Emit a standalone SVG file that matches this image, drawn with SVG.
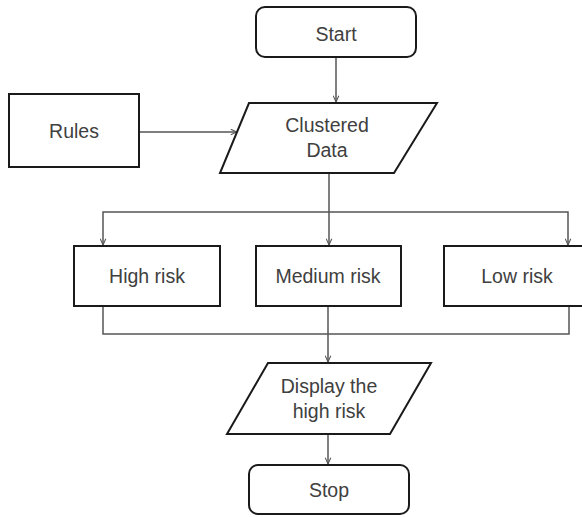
<svg xmlns="http://www.w3.org/2000/svg" width="582" height="517" viewBox="0 0 582 517">
<style>
.shape{fill:#fff;stroke:#1a1a1a;stroke-width:2}
.conn{fill:none;stroke:#555;stroke-width:1.5}
.lbl{font-family:"Liberation Sans",Arial,sans-serif;font-size:19.5px;fill:#404040;text-anchor:middle}
</style>
<defs>
<marker id="arr" viewBox="0 0 10 10" refX="10" refY="5" markerWidth="7" markerHeight="7" orient="auto" markerUnits="userSpaceOnUse">
<path d="M1,1 L10,5 L1,9" fill="none" stroke="#555" stroke-width="1.5"/>
</marker>
</defs>
<rect width="582" height="517" fill="#fff"/>
<g id="connectors">
<path class="conn" d="M336,57 V102" marker-end="url(#arr)"/>
<path class="conn" d="M139,132 H237" marker-end="url(#arr)"/>
<path class="conn" d="M329,173 V245" marker-end="url(#arr)"/>
<path class="conn" d="M329,212 H103 V245" marker-end="url(#arr)"/>
<path class="conn" d="M329,212 H568 V245" marker-end="url(#arr)"/>
<path class="conn" d="M103,306 V334 H569 V306"/>
<path class="conn" d="M328,306 V362" marker-end="url(#arr)"/>
<path class="conn" d="M328,434 V464" marker-end="url(#arr)"/>
</g>
<g id="start">
<rect class="shape" x="256" y="7" width="160" height="50" rx="9"/>
<text class="lbl" x="336" y="41">Start</text>
</g>
<g id="rules">
<rect class="shape" x="9" y="94" width="130" height="73"/>
<text class="lbl" x="74" y="138">Rules</text>
</g>
<g id="clustered">
<polygon class="shape" points="249,103 437,103 394,173 220,173"/>
<text class="lbl" x="327" y="132">Clustered</text>
<text class="lbl" x="327" y="157">Data</text>
</g>
<g id="high">
<rect class="shape" x="74" y="246" width="146" height="60"/>
<text class="lbl" x="147" y="283">High risk</text>
</g>
<g id="medium">
<rect class="shape" x="256" y="246" width="145" height="60"/>
<text class="lbl" x="328" y="283">Medium risk</text>
</g>
<g id="low">
<rect class="shape" x="444" y="246" width="140" height="60"/>
<text class="lbl" x="517" y="283">Low risk</text>
</g>
<g id="display">
<polygon class="shape" points="268,363 431,363 390,434 227,434"/>
<text class="lbl" x="329" y="393">Display the</text>
<text class="lbl" x="329" y="418">high risk</text>
</g>
<g id="stop">
<rect class="shape" x="249" y="465" width="160" height="49" rx="9"/>
<text class="lbl" x="329" y="497">Stop</text>
</g>
</svg>
